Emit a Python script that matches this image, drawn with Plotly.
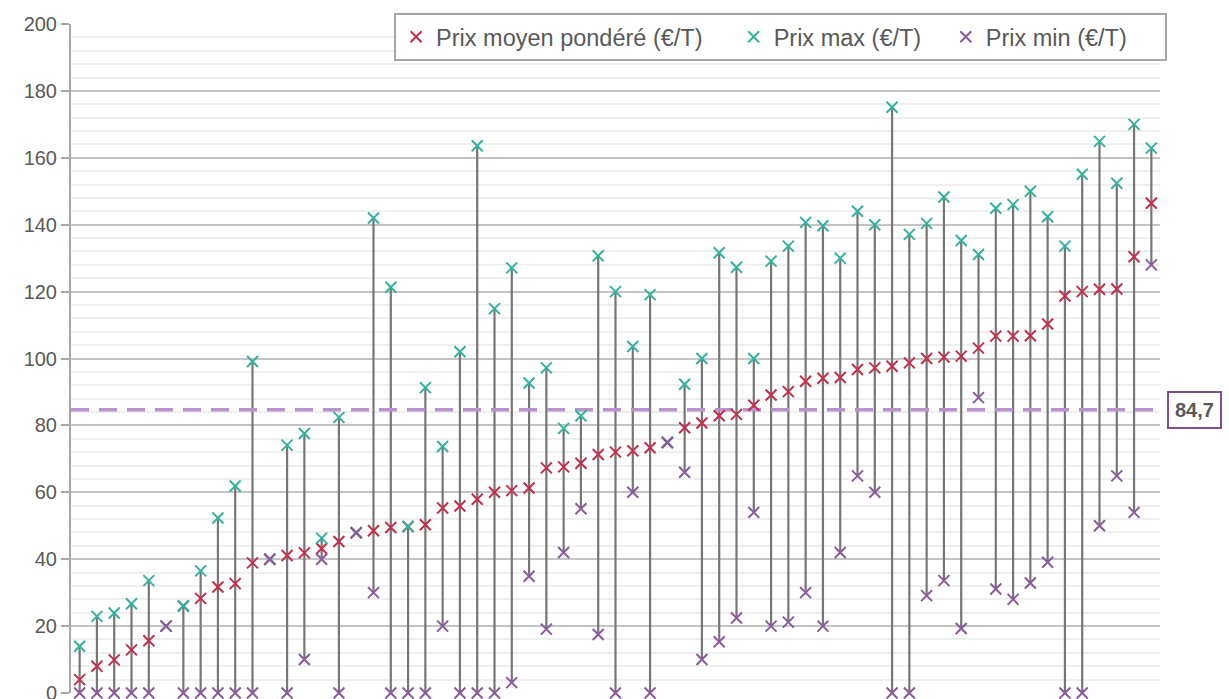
import plotly.graph_objects as go

prix_moyen = [4.0, 8.0, 9.9, 12.9, 15.6, 20.0, 26.0, 28.3, 31.7, 32.7,
              38.9, 40.0, 41.1, 41.9, 43.2, 45.3, 47.9, 48.5, 49.5, 49.8,
              50.3, 55.3, 55.9, 57.9, 60.0, 60.5, 61.3, 67.3, 67.6, 68.7,
              71.3, 72.0, 72.4, 73.3, 74.9, 79.3, 80.7, 82.9, 83.3, 86.0,
              89.1, 90.1, 93.2, 94.1, 94.3, 96.7, 97.2, 97.7, 98.7, 100.0,
              100.4, 100.7, 103.1, 106.7, 106.7, 106.8, 110.3, 118.7, 120.0, 120.7,
              120.8, 130.4, 146.4]
prix_max = [14.0, 22.9, 23.9, 26.7, 33.6, 20.0, 26.0, 36.5, 52.3, 61.9,
            99.1, 40.0, 74.1, 77.6, 46.3, 82.4, 47.9, 142.0, 121.3, 49.8,
            91.3, 73.7, 102.0, 163.6, 114.9, 127.1, 92.7, 97.2, 79.1, 82.9,
            130.7, 120.0, 103.6, 119.1, 74.9, 92.3, 100.0, 131.6, 127.3, 100.0,
            129.1, 133.6, 140.7, 139.7, 130.0, 144.0, 140.0, 175.1, 137.1, 140.4,
            148.3, 135.3, 131.1, 144.9, 146.0, 150.0, 142.4, 133.6, 155.1, 164.9,
            152.4, 170.0, 162.9]
prix_min = [0, 0, 0, 0, 0, 20.0, 0, 0, 0, 0,
            0, 40.0, 0, 10.0, 40.0, 0, 47.9, 30.0, 0, 0,
            0, 20.0, 0, 0, 0, 3.1, 34.9, 19.1, 42.0, 55.1,
            17.5, 0, 60.0, 0, 74.9, 66.0, 10.0, 15.3, 22.4, 54.0,
            20.0, 21.2, 30.0, 20.0, 42.0, 64.9, 60.0, 0, 0, 29.1,
            33.6, 19.3, 88.3, 31.1, 28.0, 32.9, 39.1, 0, 0, 50.0,
            64.9, 54.0, 128.0]
moyenne = 84.7
moyenne_label = "84,7"
series_names = ["Prix moyen pondéré (€/T)", "Prix max (€/T)", "Prix min (€/T)"]
categories = list(range(len(prix_moyen)))

FONT = "Liberation Sans, Arial, sans-serif"
GREY_TXT = "#595959"
NB = "\u00a0"
legend_pad = [4, 3, 5]  # trailing non-breaking spaces to mimic legend spacing

# whiskers from min to max
wx, wy = [], []
for c, lo, hi in zip(categories, prix_min, prix_max):
    wx += [c, c, None]
    wy += [lo, hi, None]

fig = go.Figure()
fig.add_trace(go.Scatter(x=wx, y=wy, mode="lines", showlegend=False,
                         line=dict(color="#767676", width=2.2),
                         hoverinfo="skip", cliponaxis=False))
fig.add_trace(go.Scatter(x=[categories[0] - 0.5, categories[-1] + 0.5], y=[moyenne, moyenne],
                         mode="lines", showlegend=False,
                         line=dict(color="#b992cc", width=3.5, dash="18px,10px"),
                         hoverinfo="skip"))


def mk(name, ys, color, pad):
    return go.Scatter(x=categories, y=ys, mode="markers", name=name + NB * pad, cliponaxis=False,
                      marker=dict(symbol="x-thin", size=11,
                                  line=dict(color=color, width=2), color=color))


fig.add_trace(mk(series_names[0], prix_moyen, "#c0304a", legend_pad[0]))
fig.add_trace(mk(series_names[1], prix_max, "#36b0a0", legend_pad[1]))
fig.add_trace(mk(series_names[2], prix_min, "#8b5a9c", legend_pad[2]))

fig.add_annotation(xref="paper", yref="y", x=1, y=moyenne, xanchor="left", xshift=7,
                   text="<b>" + moyenne_label + "</b>", showarrow=False,
                   font=dict(family=FONT, size=20, color=GREY_TXT),
                   bordercolor="#7f4f92", borderwidth=2, borderpad=6, bgcolor="white")

fig.update_layout(
    width=1229, height=699,
    margin=dict(l=71, r=69, t=24, b=6, autoexpand=False),
    paper_bgcolor="white", plot_bgcolor="white",
    font=dict(family=FONT, size=20, color=GREY_TXT),
    legend=dict(orientation="h", xanchor="right", yanchor="top",
                x=1.0065, y=1.0164,
                bordercolor="#a6a6a6", borderwidth=2, bgcolor="white",
                font=dict(family=FONT, size=23.5, color=GREY_TXT),
                itemwidth=30, traceorder="normal"),
    xaxis=dict(range=[-0.5, len(categories) - 0.5], showticklabels=False,
               showgrid=False, zeroline=False, showline=False, ticks="", automargin=False),
    yaxis=dict(range=[0, 200], dtick=20, showgrid=True, gridcolor="#c4c4c4", gridwidth=1.5,
               minor=dict(dtick=4, showgrid=True, gridcolor="#efefef", gridwidth=1.5),
               zeroline=False, showline=True, linecolor="#a6a6a6", linewidth=2,
               ticks="outside", ticklen=8, tickcolor="#a6a6a6", tickwidth=2,
               ticklabeloverflow="allow", automargin=False,
               tickfont=dict(family=FONT, size=20, color=GREY_TXT)),
    hovermode=False,
)

fig.write_html("out.html", config={"displayModeBar": False},
               post_script="document.body.style.margin='0px';")
